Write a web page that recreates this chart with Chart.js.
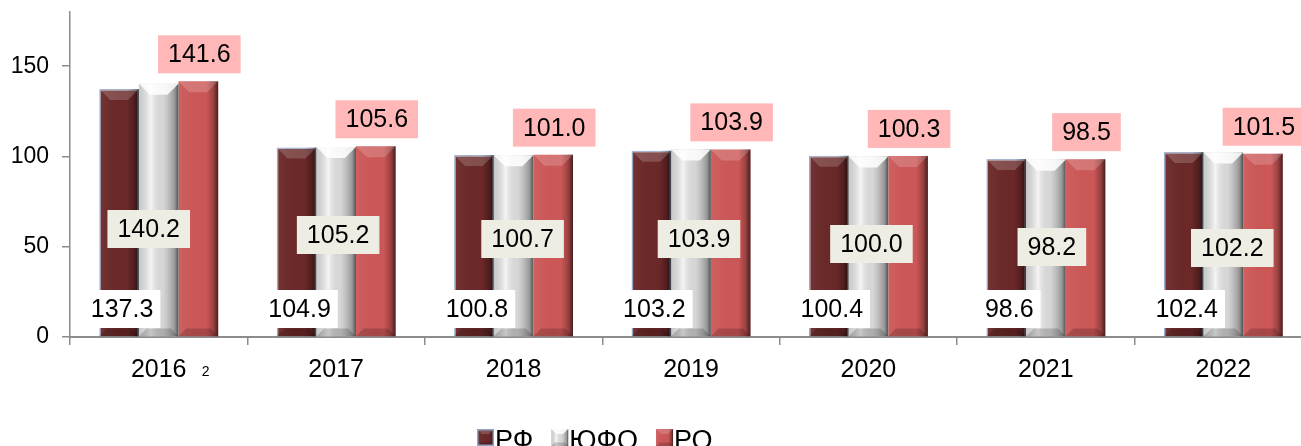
<!DOCTYPE html>
<html>
<head>
<meta charset="utf-8">
<script src="https://cdn.jsdelivr.net/npm/chart.js@4.4.1/dist/chart.umd.min.js"></script>
<style>
  html, body { margin: 0; padding: 0; background: #fff; overflow: hidden; }
  #wrap { width: 1312px; height: 446px; }
</style>
</head>
<body>
<div id="wrap"><canvas id="myChart" width="1312" height="446"></canvas></div>
<script>
// data
const years = ['2016', '2017', '2018', '2019', '2020', '2021', '2022'];
const rf  = [137.3, 104.9, 100.8, 103.2, 100.4, 98.6, 102.4];
const ufo = [140.2, 105.2, 100.7, 103.9, 100.0, 98.2, 102.2];
const ro  = [141.6, 105.6, 101.0, 103.9, 100.3, 98.5, 101.5];
const yTicks = [0, 50, 100, 150];
const seriesNames = ['РФ', 'ЮФО', 'РО'];

// styles
const baseColors = ['#6b2828', '#e4e4e4', '#cd5757'];
const labelFill = ['#ffffff', '#eeede3', '#ffb7b7'];
const FONT = '"Liberation Sans", Arial, sans-serif';
// hand nudges of the middle (ЮФО) labels, as in the original slide
const midShiftX = [-10, 2, 9, 8, 3, 6, 9];
const midY = [229, 235, 239, 239, 244, 247, 248];

let ctx = document.getElementById('myChart').getContext('2d');

function bevel(c, l, t, w, h, di) {
    let r = l + w;
    let g = c.createLinearGradient(l, 0, r, 0);
    if (di === 1) {
        g.addColorStop(0, 'rgba(150,150,150,0.35)');
        g.addColorStop(0.3, 'rgba(255,255,255,0.6)');
        g.addColorStop(0.6, 'rgba(160,160,160,0.2)');
        g.addColorStop(0.9, 'rgba(90,90,90,0.55)');
        g.addColorStop(1, 'rgba(40,40,40,0.8)');
    } else {
        g.addColorStop(0, 'rgba(255,255,255,0.06)');
        g.addColorStop(0.7, 'rgba(0,0,0,0)');
        g.addColorStop(0.88, 'rgba(0,0,0,0.25)');
        g.addColorStop(1, 'rgba(0,0,0,0.65)');
    }
    c.fillStyle = g;
    c.fillRect(l, t, w, h);
    let bv = Math.min(w * 0.3, 11, h / 3);
    // top bevel
    c.beginPath();
    c.moveTo(l, t); c.lineTo(r, t); c.lineTo(r - bv, t + bv); c.lineTo(l + bv, t + bv);
    c.closePath();
    c.fillStyle = di === 1 ? 'rgba(255,255,255,0.85)' : 'rgba(255,255,255,0.18)';
    c.fill();
    // bottom bevel
    c.beginPath();
    c.moveTo(l, t + h); c.lineTo(r, t + h); c.lineTo(r - bv * 0.7, t + h - bv * 0.7); c.lineTo(l + bv * 0.7, t + h - bv * 0.7);
    c.closePath();
    c.fillStyle = 'rgba(0,0,0,0.18)';
    c.fill();
}

const barLook = {
    id: 'barLook',
    afterDatasetsDraw(chart) {
        let c = chart.ctx;
        c.save();
        chart.data.datasets.forEach((ds, di) => {
            chart.getDatasetMeta(di).data.forEach(bar => {
                let p = bar.getProps(['x', 'y', 'base', 'width'], true);
                bevel(c, p.x - p.width / 2, p.y, p.width, p.base - p.y, di);
            });
        });
        c.restore();
    }
};

function box(c, text, cx, cy, fill, pad) {
    c.font = '25px ' + FONT;
    let w = c.measureText(text).width + pad * 2;
    let h = 38;
    c.fillStyle = fill;
    c.fillRect(cx - w / 2, cy - h / 2, w, h);
    c.fillStyle = '#000';
    c.textAlign = 'center';
    c.textBaseline = 'middle';
    c.fillText(text, cx, cy + 1);
}

const valueLabels = {
    id: 'valueLabels',
    afterDatasetsDraw(chart) {
        let c = chart.ctx;
        c.save();
        let base = chart.scales.y.getPixelForValue(0);
        chart.data.datasets.forEach((ds, di) => {
            chart.getDatasetMeta(di).data.forEach((bar, i) => {
                let txt = ds.data[i].toFixed(1);
                if (di === 0) box(c, txt, bar.x + 3, base - 28, labelFill[0], 7);
                if (di === 1) box(c, txt, bar.x + midShiftX[i], midY[i], labelFill[1], 10);
                if (di === 2) box(c, txt, bar.x + 1, bar.y - 8 - 19, labelFill[2], 10);
            });
        });
        c.restore();
    }
};

const extras = {
    id: 'extras',
    afterDraw(chart) {
        let c = chart.ctx;
        c.save();
        // footnote mark next to 2016
        c.font = '14px ' + FONT;
        c.fillStyle = '#000';
        c.textAlign = 'left';
        c.textBaseline = 'middle';
        c.fillText('2', chart.scales.x.getPixelForValue(0) + 43, 372);
        // legend
        let x = 477, top = 429;
        c.font = '27px ' + FONT;
        c.textBaseline = 'alphabetic';
        seriesNames.forEach((name, i) => {
            c.fillStyle = baseColors[i];
            c.fillRect(x, top, 17, 17);
            bevel(c, x, top, 17, 17, i);
            if (i === 0) {
                c.strokeStyle = '#8fa2c4';
                c.lineWidth = 1.5;
                c.strokeRect(x + 0.75, top + 0.75, 15.5, 15.5);
            }
            x += 17;
            c.fillStyle = '#000';
            c.fillText(name, x + 1, top + 20);
            x += c.measureText(name).width + 19;
        });
        c.restore();
    }
};

var data = {
    labels: years,
    datasets: [
        {
            label: seriesNames[0],
            data: rf,
            backgroundColor: baseColors[0],
            borderColor: '#93a5c6',
            borderWidth: 1.5
        },
        {
            label: seriesNames[1],
            data: ufo,
            backgroundColor: baseColors[1],
            borderWidth: 0
        },
        {
            label: seriesNames[2],
            data: ro,
            backgroundColor: baseColors[2],
            borderWidth: 0
        }
    ]
};

var myChart = new Chart(ctx, {
    type: 'bar',
    data: data,
    plugins: [barLook, valueLabels, extras],
    options: {
        responsive: false,
        animation: false,
        layout: { padding: { top: 12, left: 0, right: 0, bottom: 0 } },
        datasets: {
            bar: { categoryPercentage: 0.67, barPercentage: 1.0 }
        },
        plugins: {
            legend: { display: false },
            tooltip: { enabled: false }
        },
        scales: {
            x: {
                grid: { drawOnChartArea: false, tickLength: 8, color: '#8c8c8c', lineWidth: 1.5 },
                border: { color: '#8c8c8c', width: 2 },
                ticks: { color: '#000', font: { family: FONT, size: 25 }, padding: 10 },
                afterFit: s => { s.height = 109; s.paddingLeft = 0; s.paddingRight = 0; }
            },
            y: {
                min: 0,
                max: 180,
                grid: { drawOnChartArea: false, tickLength: 8, color: '#8c8c8c', lineWidth: 1.5 },
                border: { color: '#8c8c8c', width: 1.5 },
                ticks: { color: '#000', font: { family: FONT, size: 23 }, padding: 13 },
                afterBuildTicks: s => { s.ticks = yTicks.map(v => ({ value: v })); },
                afterFit: s => { s.width = 70; s.paddingTop = 0; s.paddingBottom = 0; }
            }
        }
    }
});
</script>
</body>
</html>
